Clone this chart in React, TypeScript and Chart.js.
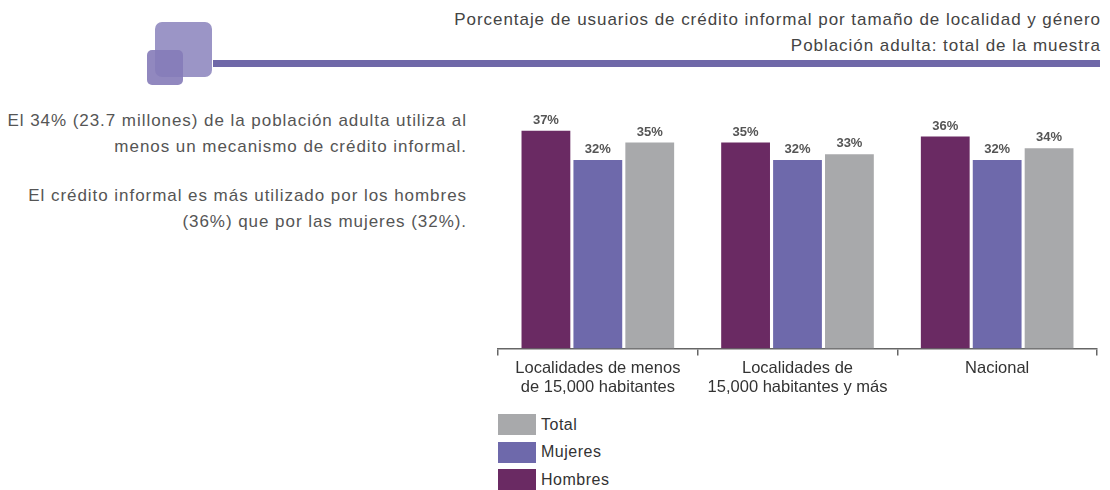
import React, { useEffect, useRef } from "react";
import { Chart, registerables } from "chart.js";

Chart.register(...registerables);

const categories: string[][] = [
  ["Localidades de menos", "de 15,000 habitantes"],
  ["Localidades de", "15,000 habitantes y más"],
  ["Nacional"],
];
const hombres = [37, 35, 36];
const mujeres = [32, 32, 32];
const total = [35, 33, 34];
const seriesNames = ["Hombres", "Mujeres", "Total"];
const seriesColors = ["#6a2a63", "#6e69ab", "#a8a9ab"];
const titleLines = [
  "Porcentaje de usuarios de crédito informal por tamaño de localidad y género",
  "Población adulta: total de la muestra",
];
const noteParagraphs = [
  ["El 34% (23.7 millones) de la población adulta utiliza al", "menos un mecanismo de crédito informal."],
  ["El crédito informal es más utilizado por los hombres", "(36%) que por las mujeres (32%)."],
];

const FONT = "'Liberation Sans', Arial, Helvetica, sans-serif";

const valueLabels = {
  id: "valueLabels",
  afterDatasetsDraw(chart: any) {
    const ctx = chart.ctx;
    ctx.save();
    ctx.font = `bold 13px ${FONT}`;
    ctx.fillStyle = "#555555";
    ctx.textAlign = "center";
    ctx.textBaseline = "bottom";
    chart.data.datasets.forEach((ds: any, i: number) => {
      const meta = chart.getDatasetMeta(i);
      meta.data.forEach((bar: any, j: number) => {
        ctx.fillText(ds.data[j] + "%", bar.x, bar.y - 4);
      });
    });
    ctx.restore();
  },
};

export default function App() {
  const ref = useRef<HTMLCanvasElement | null>(null);
  useEffect(() => {
    if (!ref.current) return;
    const chart = new Chart(ref.current, {
      type: "bar",
      data: {
        labels: categories,
        datasets: [hombres, mujeres, total].map((d, i) => ({
          label: seriesNames[i],
          data: d,
          backgroundColor: seriesColors[i],
          borderWidth: 0,
          categoryPercentage: 0.78,
          barPercentage: 0.94,
        })),
      },
      options: {
        animation: false,
        responsive: false,
        maintainAspectRatio: false,
        layout: { padding: { left: 8, right: 8, top: 13, bottom: 0 } },
        plugins: { legend: { display: false }, tooltip: { enabled: false } },
        scales: {
          x: {
            grid: {
              offset: true,
              drawOnChartArea: false,
              drawTicks: true,
              tickLength: 7,
              color: "#666666",
              lineWidth: 1.5,
            },
            border: { display: true, color: "#666666", width: 1.5 },
            ticks: {
              color: "#333333",
              font: { family: FONT, size: 16.5, lineHeight: 1.17 },
              padding: 3,
              maxRotation: 0,
              autoSkip: false,
            },
          },
          y: {
            display: false,
            min: 0,
            max: 40,
          },
        },
      },
      plugins: [valueLabels],
    });
    return () => chart.destroy();
  }, []);

  const legendOrder = [2, 1, 0];
  const textStyle = { fontSize: 17, letterSpacing: "0.95px" };

  return (
    <div style={{ position: "absolute", left: 0, top: 0, width: 1110, height: 490, background: "#fff", fontFamily: FONT, overflow: "hidden" }}>
      <div style={{ position: "absolute", left: 155, top: 22, width: 57, height: 55, background: "#9b95c6", borderRadius: 7 }} />
      <div style={{ position: "absolute", left: 147, top: 50, width: 36, height: 35, background: "#857bb8", borderRadius: 5, opacity: 0.9 }} />
      <div style={{ position: "absolute", left: 213, top: 60, width: 887, height: 7, background: "#6f68a8" }} />
      {titleLines.map((t, i) => (
        <div key={i} style={{ position: "absolute", right: 9, top: 10 + i * 26, ...textStyle, color: "#444", whiteSpace: "nowrap", lineHeight: "20px" }}>{t}</div>
      ))}
      {noteParagraphs.map((p, pi) => (
        <div key={pi} style={{ position: "absolute", right: 1110 - 467, top: 108 + pi * 75, ...textStyle, color: "#555", textAlign: "right", lineHeight: "25.5px", whiteSpace: "nowrap" }}>
          {p.map((l, li) => <div key={li}>{l}</div>)}
        </div>
      ))}
      <canvas ref={ref} width={615} height={300} style={{ position: "absolute", left: 490, top: 100, width: 615, height: 300 }} />
      {legendOrder.map((si, k) => (
        <div key={si} style={{ position: "absolute", left: 498, top: 414 + k * 27.5, height: 21, display: "flex", alignItems: "center" }}>
          <div style={{ width: 38, height: 21, background: seriesColors[si] }} />
          <div style={{ marginLeft: 5, fontSize: 16, letterSpacing: "0.5px", color: "#333" }}>{seriesNames[si]}</div>
        </div>
      ))}
    </div>
  );
}
